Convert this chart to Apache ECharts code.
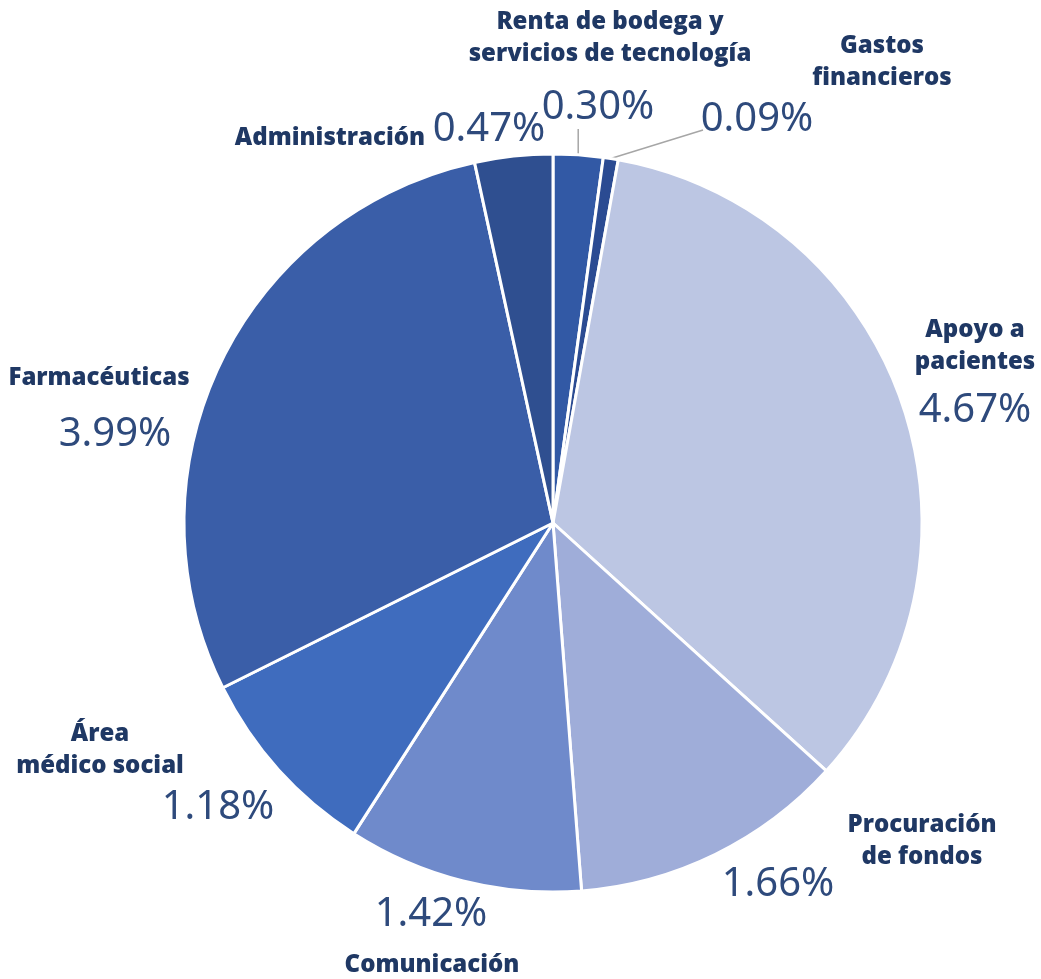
<!DOCTYPE html>
<html>
<head>
<meta charset="utf-8">
<script src="https://cdn.jsdelivr.net/npm/echarts@6/dist/echarts.min.js"></script>
<style>html,body{margin:0;padding:0;background:#fff}#c{width:1041px;height:979px}</style>
</head>
<body>
<div id="c"></div>
<script>
// Data (clockwise from 12 o'clock)
const categories = ['Renta de bodega y servicios de tecnología', 'Gastos financieros', 'Apoyo a pacientes', 'Procuración de fondos', 'Comunicación', 'Área médico social', 'Farmacéuticas', 'Administración'];
const nameLabels = ['Renta de bodega y\nservicios de tecnología', 'Gastos\nfinancieros', 'Apoyo a\npacientes', 'Procuración\nde fondos', 'Comunicación', 'Área\nmédico social', 'Farmacéuticas', 'Administración'];
const values = [0.30, 0.09, 4.67, 1.66, 1.42, 1.18, 3.99, 0.47];
const colors = ['#3259a5', '#2b4b92', '#bcc6e3', '#9fadd9', '#6f8acb', '#3f6cbe', '#3a5ea8', '#2f4f90'];

// label layout (separate from data)
const nameLayout = [[610, 38], [882, 62], [975, 346], [922, 841], [432, 965], [100, 750], [99, 378], [330, 138]];
const valueLayout = [[598, 108], [757, 120], [975, 411], [778, 885], [431, 915], [218, 808], [115, 435], [489, 130]];
const lineEnd = [[-20, 21], [-54, 10], null, null, null, null, null, null];

const chart = echarts.init(document.getElementById('c'));
const center = [553, 523];
const radius = 369;

chart.setOption({
  animation: false,
  series: [
    {
      type: 'pie',
      center: center,
      radius: radius,
      startAngle: 90,
      clockwise: true,
      avoidLabelOverlap: false,
      itemStyle: { borderColor: '#ffffff', borderWidth: 3 },
      emphasis: { disabled: true },
      label: {
        show: true,
        position: 'outside',
        formatter: p => p.value.toFixed(2) + '%',
        fontFamily: 'Noto Sans',
        fontSize: 40,
        fontWeight: 'normal',
        color: '#2e4a7c'
      },
      labelLine: { show: false, lineStyle: { color: '#a6a6a6', width: 1.5 }, length: 10, length2: 10 },
      labelLayout: p => {
        const i = p.dataIndex;
        const pos = valueLayout[i];
        const res = { x: pos[0], y: pos[1], align: 'center', verticalAlign: 'middle' };
        if (lineEnd[i] && p.labelLinePoints) {
          const a = p.labelLinePoints[0];
          const end = [pos[0] + lineEnd[i][0], pos[1] + lineEnd[i][1]];
          if (i === 0) end[0] = a[0];
          res.labelLinePoints = [a, end];
        }
        return res;
      },
      data: values.map((v, i) => ({
        name: categories[i],
        value: v,
        itemStyle: { color: colors[i] },
        labelLine: { show: !!lineEnd[i] }
      }))
    },
    {
      type: 'pie',
      center: center,
      radius: radius,
      startAngle: 90,
      clockwise: true,
      silent: true,
      avoidLabelOverlap: false,
      itemStyle: { color: 'rgba(0,0,0,0)', borderWidth: 0 },
      label: {
        show: true,
        position: 'outside',
        formatter: p => nameLabels[p.dataIndex],
        fontFamily: 'Open Sans',
        fontSize: 24,
        fontWeight: 800,
        lineHeight: 32,
        align: 'center',
        color: '#1f3864'
      },
      labelLine: { show: false },
      labelLayout: p => ({ x: nameLayout[p.dataIndex][0], y: nameLayout[p.dataIndex][1], align: 'center', verticalAlign: 'middle' }),
      data: values.map((v, i) => ({ name: categories[i], value: v }))
    }
  ]
});
</script>
</body>
</html>
